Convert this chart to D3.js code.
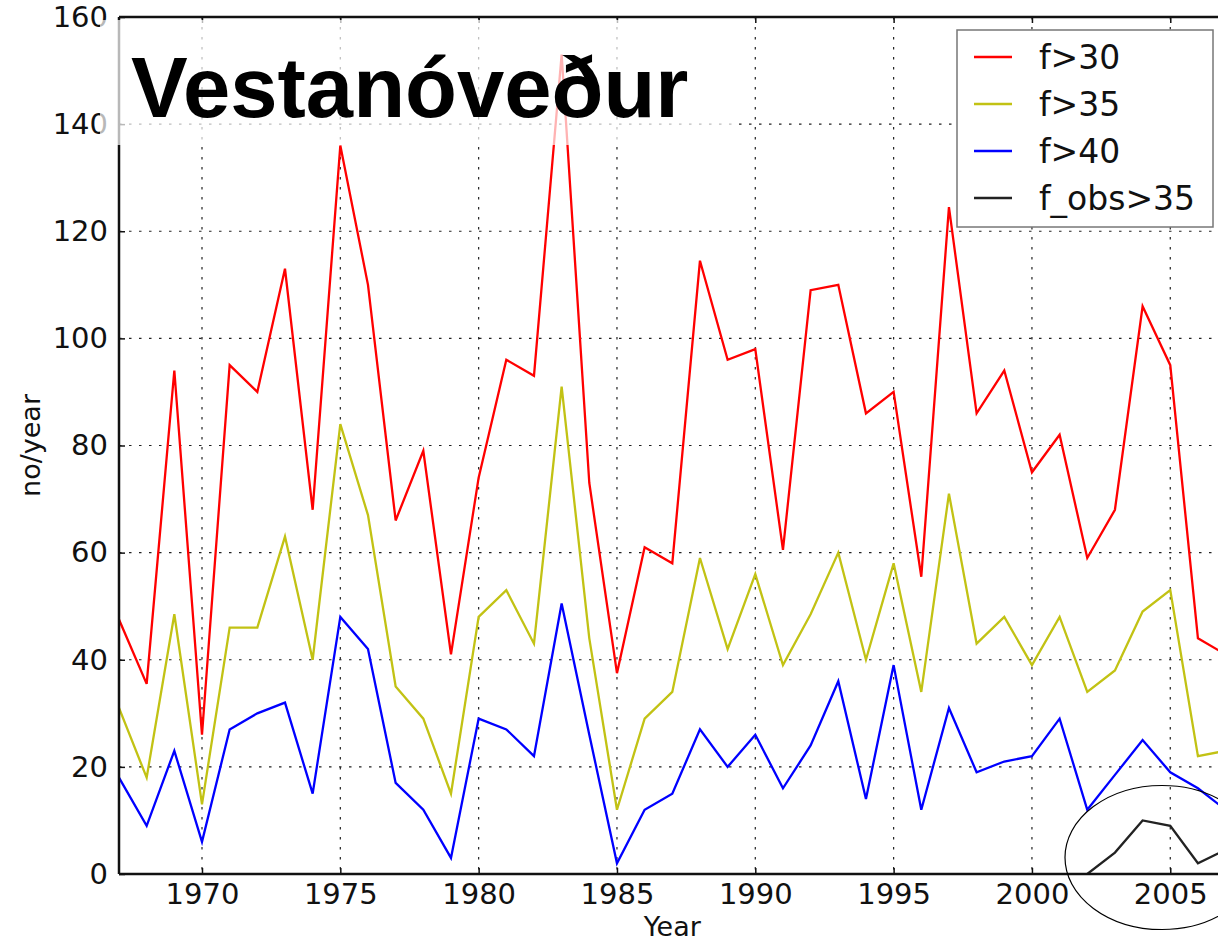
<!DOCTYPE html>
<html>
<head>
<meta charset="utf-8">
<script src="https://cdn.jsdelivr.net/npm/d3@7"></script>
<style>
    body { margin: 0; background: #fff; }
    .tick text { font-family: "DejaVu Sans", sans-serif; font-size: 29px; fill: #111; }
    .gridLine { stroke: #222; stroke-width: 1.2; stroke-dasharray: 2.5,7.5; }
</style>
</head>
<body>
<script>
    //years shown on the x axis
    var years = d3.range(1967, 2008);
    var xTicks = [1970, 1975, 1980, 1985, 1990, 1995, 2000, 2005];
    var yTicks = [0, 20, 40, 60, 80, 100, 120, 140, 160];

    //series values, one per year 1967-2007
    var f30 = [47.5, 35.5, 94, 26, 95, 90, 113, 68, 136, 110, 66, 79, 41, 74, 96, 93, 153, 73, 37.5, 61, 58,
        114.5, 96, 98, 60.5, 109, 110, 86, 90, 55.5, 124.5, 86, 94, 75, 82, 59, 68, 106, 95, 44, 41];
    var f35 = [31, 18, 48.5, 13, 46, 46, 63, 40, 84, 67, 35, 29, 15, 48, 53, 43, 91, 44, 12, 29, 34,
        59, 42, 56, 39, 48.5, 60, 40, 58, 34, 71, 43, 48, 39, 48, 34, 38, 49, 53, 22, 23];
    var f40 = [18, 9, 23, 6, 27, 30, 32, 15, 48, 42, 17, 12, 3, 29, 27, 22, 50.5, 26, 2, 12, 15,
        27, 20, 26, 16, 24, 36, 14, 39, 12, 31, 19, 21, 22, 29, 12, 18.5, 25, 19, 16, 12];
    //observed series only exists from 2002
    var obsYears = [2002, 2003, 2004, 2005, 2006, 2007];
    var fObs35 = [0, 4, 10, 9, 2, 4.5];

    var seriesNames = ["f>30", "f>35", "f>40", "f_obs>35"];
    var seriesColors = ["#ff0000", "#c2c214", "#0000ff", "#222222"];

(function(){
    var width = 1218,
        height = 943,
        plotLeft = 119,
        plotTop = 17,
        plotBottom = 874,
        plotRight = 1225.6;

    var svg = d3.select("body")
        .append("svg")
        .attr("width", width)
        .attr("height", height);

    var x = d3.scaleLinear().domain([1967, 2007]).range([plotLeft, plotRight]);
    var y = d3.scaleLinear().domain([0, 160]).range([plotBottom, plotTop]);

    //clip for the plot area
    svg.append("clipPath")
        .attr("id", "plotClip")
        .append("rect")
        .attr("x", plotLeft)
        .attr("y", plotTop)
        .attr("width", plotRight - plotLeft)
        .attr("height", plotBottom - plotTop);

    //dotted grid
    svg.selectAll(".vGrid")
        .data(xTicks)
        .enter()
        .append("line")
        .attr("class", "gridLine")
        .attr("x1", function(d){ return x(d); })
        .attr("x2", function(d){ return x(d); })
        .attr("y1", plotTop)
        .attr("y2", plotBottom);

    svg.selectAll(".hGrid")
        .data(yTicks.slice(1, -1))
        .enter()
        .append("line")
        .attr("class", "gridLine")
        .attr("x1", plotLeft)
        .attr("x2", plotRight)
        .attr("y1", function(d){ return y(d); })
        .attr("y2", function(d){ return y(d); });

    //lines
    var line = d3.line()
        .x(function(d){ return x(d[0]); })
        .y(function(d){ return y(d[1]); });

    var allSeries = [
        d3.zip(years, f30),
        d3.zip(years, f35),
        d3.zip(years, f40),
        d3.zip(obsYears, fObs35)
    ];

    svg.append("g")
        .attr("clip-path", "url(#plotClip)")
        .selectAll("path")
        .data(allSeries)
        .enter()
        .append("path")
        .attr("d", line)
        .attr("fill", "none")
        .attr("stroke", function(d, i){ return seriesColors[i]; })
        .attr("stroke-width", 2.3)
        .attr("stroke-linejoin", "miter");

    //axes with inward ticks
    svg.append("g")
        .attr("transform", "translate(0," + plotBottom + ")")
        .call(d3.axisBottom(x).tickValues(xTicks).tickFormat(d3.format("d")).tickSize(-6).tickPadding(9));
    svg.append("g")
        .attr("transform", "translate(0," + plotTop + ")")
        .call(d3.axisTop(x).tickValues(xTicks).tickFormat("").tickSize(-6));
    svg.append("g")
        .attr("transform", "translate(" + plotLeft + ",0)")
        .call(d3.axisLeft(y).tickValues(yTicks).tickSize(-6).tickPadding(11));

    svg.selectAll(".domain").remove();
    svg.selectAll(".tick line").attr("stroke", "#111").attr("stroke-width", 1.5);

    //frame
    svg.append("line").attr("x1", plotLeft).attr("x2", plotRight).attr("y1", plotBottom).attr("y2", plotBottom)
        .attr("stroke", "#111").attr("stroke-width", 2.5);
    svg.append("line").attr("x1", plotLeft).attr("x2", plotRight).attr("y1", plotTop).attr("y2", plotTop)
        .attr("stroke", "#111").attr("stroke-width", 2.5);
    svg.append("line").attr("x1", plotLeft).attr("x2", plotLeft).attr("y1", plotTop).attr("y2", plotBottom)
        .attr("stroke", "#111").attr("stroke-width", 2.5);

    //axis titles
    svg.append("text")
        .attr("x", (plotLeft + plotRight) / 2)
        .attr("y", 936)
        .attr("text-anchor", "middle")
        .style("font-family", "DejaVu Sans, sans-serif")
        .style("font-size", "27px")
        .style("fill", "#111")
        .text("Year");

    svg.append("text")
        .attr("transform", "translate(40," + (plotTop + plotBottom) / 2 + ") rotate(-90)")
        .attr("text-anchor", "middle")
        .style("font-family", "DejaVu Sans, sans-serif")
        .style("font-size", "27px")
        .style("fill", "#111")
        .text("no/year");

    //pasted title with its faint white backing
    svg.append("rect")
        .attr("x", 100)
        .attr("y", 20)
        .attr("width", 633)
        .attr("height", 125)
        .attr("fill", "#fff")
        .attr("opacity", 0.7);

    svg.append("text")
        .attr("x", 131)
        .attr("y", 117)
        .style("font-family", "Liberation Sans, Arial, sans-serif")
        .style("font-weight", "bold")
        .style("font-size", "85px")
        .style("fill", "#000")
        .text("Vestanóveður");

    //legend
    var legend = svg.append("g");
    legend.append("rect")
        .attr("x", 957)
        .attr("y", 30)
        .attr("width", 256)
        .attr("height", 197)
        .attr("fill", "#fff")
        .attr("stroke", "#777")
        .attr("stroke-width", 1.5);

    var rows = legend.selectAll(".legendRow")
        .data(seriesNames)
        .enter()
        .append("g")
        .attr("transform", function(d, i){ return "translate(0," + (57 + i * 47) + ")"; });

    rows.append("line")
        .attr("x1", 974)
        .attr("x2", 1012)
        .attr("stroke", function(d, i){ return seriesColors[i]; })
        .attr("stroke-width", 2.3);

    rows.append("text")
        .attr("x", 1039)
        .attr("dy", "0.36em")
        .style("font-family", "DejaVu Sans, sans-serif")
        .style("font-size", "33px")
        .style("fill", "#111")
        .text(function(d){ return d; });

    //hand drawn ellipse around the observed series
    svg.append("ellipse")
        .attr("cx", 1162)
        .attr("cy", 857.5)
        .attr("rx", 97)
        .attr("ry", 72)
        .attr("fill", "none")
        .attr("stroke", "#000")
        .attr("stroke-width", 1.2);
})();
</script>
</body>
</html>
